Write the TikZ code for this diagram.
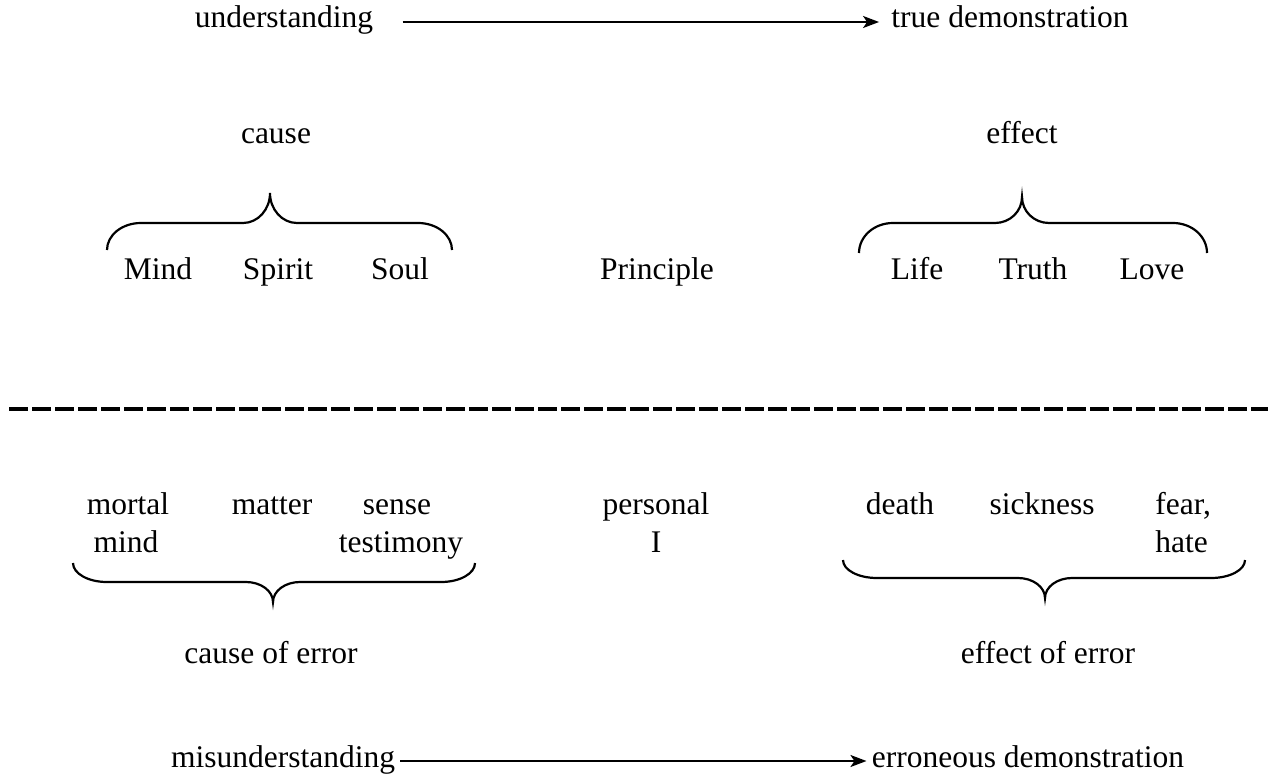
\documentclass[tikz,border=0pt]{standalone}
\usepackage{fontspec}
\setmainfont{Liberation Serif}
\usepackage{tikz}
\usetikzlibrary{arrows.meta}

% curly brace: left x, tip x, right x, end y, line y, tip y
\newcommand{\curlybrace}[6]{%
  \draw[wbrace] (#1,#4) .. controls (#1,{#5+0.45*(#4-#5)}) and (#1+15,#5) .. (#1+34,#5) -- (#2-27,#5)
    .. controls (#2-12,#5) and (#2,{#5+0.45*(#6-#5)}) .. (#2,#6)
    .. controls (#2,{#5+0.45*(#6-#5)}) and (#2+12,#5) .. (#2+27,#5)
    -- (#3-34,#5) .. controls (#3-15,#5) and (#3,{#5+0.45*(#4-#5)}) .. (#3,#4);}

\begin{document}
\begin{tikzpicture}[x=0.5pt,y=-0.5pt,word/.style={font=\fontsize{15.75}{18}\selectfont,inner sep=0pt,anchor=base},arr/.style={-{Stealth[length=8pt,width=6pt,inset=2pt]},line width=1pt},wbrace/.style={line width=1.1pt},sepline/.style={line width=2pt,dash pattern=on 9.5pt off 2pt}]
\def\yA{279};
\def\yB{514};
\def\yC{552};

\useasboundingbox (0,0) rectangle (1268,781);

\node[word] (und) at (284,28) {understanding};
\node[word] (tdem) at (1010,28) {true demonstration};
\draw[arr,shorten <=14.5pt,shorten >=6pt] ([yshift=3pt]und.base east) -- ([yshift=3pt]tdem.base west);

\node[word] (cause) at (276,143) {cause};
\node[word] (effect) at (1022,143) {effect};
\curlybrace{107}{270}{452}{250}{223}{193}
\curlybrace{859}{1022}{1207}{253}{223}{197}

\node[word] (mindU) at (158,\yA) {Mind};
\node[word] (spirit) at (278,\yA) {Spirit};
\node[word] (soul) at (400,\yA) {Soul};
\node[word] (principle) at (657,\yA) {Principle};
\node[word] (life) at (917,\yA) {Life};
\node[word] (truth) at (1033,\yA) {Truth};
\node[word] (love) at (1152,\yA) {Love};

\draw[sepline] (9,409) -- (1268,409);

\node[word] (mortal) at (128,\yB) {mortal};
\node[word] (mindL) at (126,\yC) {mind};
\node[word] (matter) at (272,\yB) {matter};
\node[word] (sense) at (397,\yB) {sense};
\node[word] (testimony) at (401,\yC) {testimony};
\node[word] (personal) at (656,\yB) {personal};
\node[word] (pI) at (656,\yC) {I};
\node[word] (death) at (900,\yB) {death};
\node[word] (sickness) at (1042,\yB) {sickness};
\node[word,anchor=base west] (fear) at (1155,\yB) {fear,};
\node[word,anchor=base west] (hate) at (1155,\yC) {hate};

\curlybrace{73}{273}{475}{563}{582}{602}
\curlybrace{843}{1045}{1245}{560}{578}{598}
\node[word] (causeE) at (271,663) {cause of error};
\node[word] (effectE) at (1048,663) {effect of error};

\node[word] (mis) at (283,767) {misunderstanding};
\node[word] (edem) at (1028,767) {erroneous demonstration};
\draw[arr,shorten <=2.5pt,shorten >=2.5pt] ([yshift=3pt]mis.base east) -- ([yshift=3pt]edem.base west);
\end{tikzpicture}
\end{document}
